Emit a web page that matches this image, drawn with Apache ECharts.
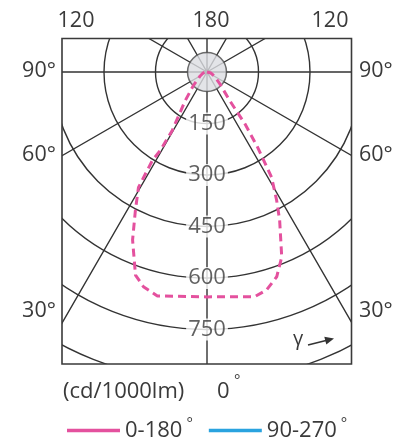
<!DOCTYPE html>
<html><head><meta charset="utf-8">
<script src="https://cdn.jsdelivr.net/npm/echarts@6/dist/echarts.min.js"></script>
<style>html,body{margin:0;padding:0;background:#fff}#c{width:394px;height:441px}</style>
</head><body><div id="c"></div>
<script>
// ring (cd/1000lm) labels
const ringTicks = [150, 300, 450, 600, 750];
// 0-180 plane, gamma angles (deg) and intensities (cd/1000lm), right half (0 deg side)
const rightAngles = [0, 12, 15.3, 18.8, 22, 26.1, 28.5, 31.5, 33.9, 36.2, 38.4, 47.3, 60, 75, 90, 180];
const rightValues = [655, 669, 658, 630, 581, 481, 425, 360, 265, 187, 107, 51, 25, 12, 4, 0];
// left half (180 deg side)
const leftAngles = [0, 12.5, 16.5, 19.4, 23.9, 27.4, 30.7, 31.7, 30.8, 30.7, 37.2, 45, 60, 75, 90, 180];
const leftValues = [652, 668, 652, 627, 535, 453, 391, 303, 266, 199, 105, 57, 23, 12, 4, 0];
// 90-270 plane (not visible in reference)
const plane90Values = [];
const topLabels = ['120', '180', '120'];
const sideLabels = ['90°', '60°', '30°'];
const seriesNames = ['0-180', '90-270'];

const FONT = 'Open Sans';
const TXT = '#3a3a3a';
const GRID = '#333';

const curve = [];
for (let i = rightAngles.length - 1; i >= 0; i--) curve.push([rightValues[i], 360 - rightAngles[i]]);
for (let i = 0; i < leftAngles.length; i++) curve.push([leftValues[i], leftAngles[i]]);

const chart = echarts.init(document.getElementById('c'));
const mask = (x, y, w, h) => ({type: 'rect', z: 100, shape: {x, y, width: w, height: h}, style: {fill: '#fff'}, silent: true});
const txt = (t, x, y, align, size) => ({type: 'text', z: 110, x, y, style: {text: t, font: (size || 21.5) + 'px "' + FONT + '"', fill: TXT, align: align || 'center', verticalAlign: 'middle'}});
const sideY = [71, 155, 311];

chart.setOption({
  animation: false,
  backgroundColor: '#fff',
  polar: {center: [207, 72], radius: 360.5},
  angleAxis: {
    type: 'value', min: 0, max: 360, interval: 30, startAngle: 270, clockwise: true,
    axisLine: {show: false}, axisTick: {show: false}, axisLabel: {show: false},
    splitLine: {show: true, lineStyle: {color: GRID, width: 1.4}}
  },
  radiusAxis: {
    type: 'value', min: 0, max: 1050, interval: 150,
    axisLine: {show: false}, axisTick: {show: false}, axisLabel: {show: false},
    splitLine: {show: true, lineStyle: {color: GRID, width: 1.4}}
  },
  legend: {
    z: 120,
    data: seriesNames, left: 62, top: 411, itemWidth: 53, itemHeight: 3.5, itemGap: 16, icon: 'rect',
    formatter: n => n + '{d|°}',
    textStyle: {fontFamily: FONT, fontSize: 22, color: TXT,
      rich: {d: {fontFamily: FONT, fontSize: 15, color: TXT, padding: [0, 0, 14, 4]}}}
  },
  series: [
    {type: 'scatter', coordinateSystem: 'polar', data: [[0, 0]], symbolSize: 39, silent: true, z: 3,
      itemStyle: {color: '#dcdde2', borderColor: '#4a4a4a', borderWidth: 1.5}},
    {name: seriesNames[0], type: 'line', coordinateSystem: 'polar', data: curve, showSymbol: false, symbol: 'none', z: 4,
      itemStyle: {color: '#e4519e'}, lineStyle: {color: '#e4519e', width: 3, type: [8, 5]}},
    {name: seriesNames[1], type: 'line', coordinateSystem: 'polar', data: plane90Values, showSymbol: false, z: 4,
      itemStyle: {color: '#2aa3df'}, lineStyle: {color: '#2aa3df', width: 3}},
    {type: 'scatter', coordinateSystem: 'polar', data: ringTicks.map(v => [v, 0]), symbolSize: 1, silent: true, z: 5,
      itemStyle: {color: 'rgba(0,0,0,0)'},
      label: {show: true, position: 'inside', formatter: p => String(p.value[0]), fontFamily: FONT, fontSize: 22,
        color: TXT, backgroundColor: '#fff', padding: [0, 2], lineHeight: 22}}
  ],
  graphic: [
    mask(0, 0, 394, 38.5), mask(0, 364, 394, 77), mask(0, 0, 62, 441), mask(351.5, 0, 43, 441),
    {type: 'rect', z: 105, shape: {x: 62, y: 38.5, width: 289.5, height: 325.5}, style: {fill: 'none', stroke: '#3a3a3a', lineWidth: 1.6}},
    txt(topLabels[0], 76, 21), txt(topLabels[1], 211, 21), txt(topLabels[2], 330, 21),
    txt(sideLabels[0], 39, sideY[0]), txt(sideLabels[1], 39, sideY[1]), txt(sideLabels[2], 39, sideY[2]),
    txt(sideLabels[0], 359, sideY[0], 'left'), txt(sideLabels[1], 359, sideY[1], 'left'), txt(sideLabels[2], 359, sideY[2], 'left'),
    txt('(cd/1000lm)', 63, 392, 'left', 22),
    txt('0', 217, 392, 'left', 22),
    txt('°', 234, 381, 'left', 15),
    txt('γ', 298, 339, 'center', 20),
    {type: 'line', z: 110, shape: {x1: 308, y1: 345, x2: 326, y2: 340.6}, style: {stroke: '#333', lineWidth: 1.5}},
    {type: 'polygon', z: 110, shape: {points: [[334, 338.5], [326.3, 344.6], [324.3, 336.8]]}, style: {fill: '#333'}}
  ]
});
</script></body></html>
